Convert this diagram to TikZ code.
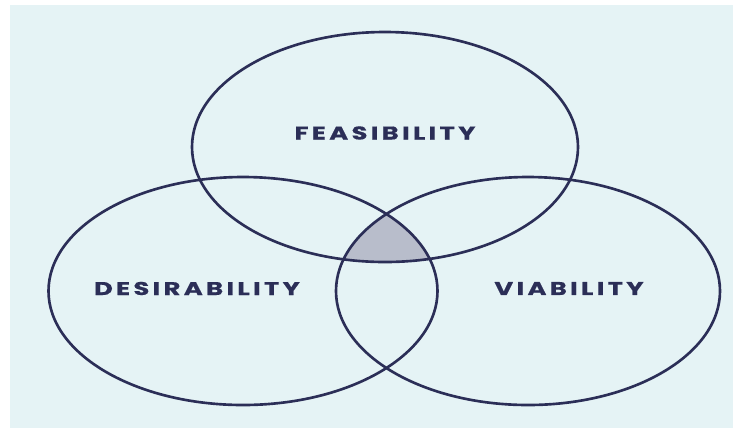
\documentclass[tikz,border=0pt]{standalone}
\usepackage{fontspec}
\usetikzlibrary{positioning}
\newfontfamily\vennfont[LetterSpace=18, FakeStretch=1.4, FakeBold=0.6]{Poppins}
\definecolor{vennnavy}{HTML}{2B2E57}
\definecolor{vennbg}{HTML}{E5F3F5}
\definecolor{venngrey}{HTML}{B8BDCB}

\begin{document}
\begin{tikzpicture}
% Define styles
\tikzstyle{ring} = [draw=vennnavy, line width=1.5pt]
\tikzstyle{label} = [text=vennnavy, font=\vennfont\bfseries\fontsize{10.5}{12}\selectfont, inner sep=0pt]

% Background
\useasboundingbox (0,0) rectangle (14.66,-8.56);
\fill[vennbg] (0.2,-0.1) rectangle (14.66,-8.56);

% Centre overlap
\begin{scope}
\clip (7.70,-2.94) ellipse [x radius=3.86, y radius=2.30];
\clip (4.86,-5.82) ellipse [x radius=3.89, y radius=2.28];
\fill[venngrey] (10.56,-5.82) ellipse [x radius=3.84, y radius=2.28];
\end{scope}

% Circles
\draw[ring] (7.70,-2.94) ellipse [x radius=3.86, y radius=2.30];
\draw[ring] (4.86,-5.82) ellipse [x radius=3.89, y radius=2.28];
\draw[ring] (10.56,-5.82) ellipse [x radius=3.84, y radius=2.28];

% Labels
\node (feas) [label] at (7.70,-2.66) {FEASIBILITY};
\node (desir) [label] at (3.94,-5.77) {DESIRABILITY};
\node (viab) [label] at (11.38,-5.77) {VIABILITY};
\end{tikzpicture}
\end{document}
